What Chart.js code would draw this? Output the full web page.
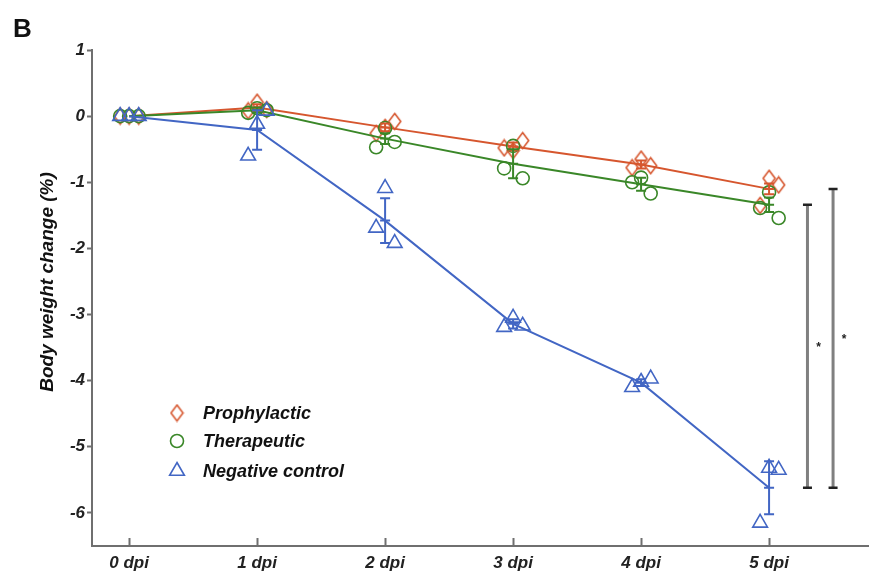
<!DOCTYPE html>
<html><head><meta charset="utf-8">
<script src="https://cdn.jsdelivr.net/npm/chart.js@4.4.1/dist/chart.umd.min.js"></script>
<style>html,body{margin:0;padding:0;background:#fff;} #wrap{width:879px;height:574px;position:relative;}</style>
</head><body><div id="wrap"><canvas id="c" width="879" height="574"></canvas></div>
<script>
// ---------- data ----------
const DAYS = [0, 1, 2, 3, 4, 5];
const TICK_LABELS = ['0 dpi', '1 dpi', '2 dpi', '3 dpi', '4 dpi', '5 dpi'];
const Y_TICKS = [1, 0, -1, -2, -3, -4, -5, -6];
const SERIES_NAMES = ['Prophylactic', 'Therapeutic', 'Negative control'];
const Y_TITLE = 'Body weight change (%)';
const PANEL = 'B';

const PRO_MEAN = [0, 0.13, -0.17, -0.46, -0.73, -1.10];
const THE_MEAN = [0, 0.09, -0.34, -0.72, -1.03, -1.34];
const NEG_MEAN = [0, -0.21, -1.58, -3.14, -4.03, -5.62];

const PRO_ERR = [0, 0.05, 0.06, 0.06, 0.06, 0.08];
const THE_ERR = [0, 0.04, 0.08, 0.22, 0.10, 0.11];
const NEG_ERR = [0, 0.30, 0.34, 0.07, 0.05, 0.40];

// individual animals per day (left, middle, right)
const PRO_PTS = [[0, 0, 0], [0.08, 0.21, 0.10], [-0.26, -0.17, -0.08], [-0.48, -0.52, -0.37], [-0.78, -0.65, -0.75], [-1.35, -0.94, -1.04]];
const THE_PTS = [[0, 0, 0], [0.05, 0.12, 0.09], [-0.47, -0.18, -0.39], [-0.79, -0.45, -0.94], [-1.00, -0.93, -1.17], [-1.39, -1.15, -1.54]];
const NEG_PTS = [[0, 0, 0], [-0.60, -0.12, 0.08], [-1.69, -1.09, -1.92], [-3.19, -3.05, -3.17], [-4.10, -4.02, -3.97], [-6.15, -5.32, -5.35]];
const JITTER = [-0.07, 0, 0.075];

// significance brackets at 5 dpi: [x, group index of top, group index of bottom, label]
const SIG = [[5.3, 1, 2, '*'], [5.5, 0, 2, '*']];

// ---------- styles ----------
const COLORS = ['rgb(214,86,46)', 'rgb(58,135,40)', 'rgb(66,102,196)'];
const FONT = "'Liberation Sans', Arial, Helvetica, sans-serif";
const AXIS_COLOR = '#6f6f6f';

function diamondImg(color) {
  const w = 12, h = 16, c = document.createElement('canvas');
  c.width = w + 3; c.height = h + 3;
  const g = c.getContext('2d');
  g.strokeStyle = color; g.lineWidth = 1.6;
  const cx = c.width / 2, cy = c.height / 2;
  g.beginPath();
  g.moveTo(cx, cy - h / 2); g.lineTo(cx + w / 2, cy); g.lineTo(cx, cy + h / 2); g.lineTo(cx - w / 2, cy); g.closePath();
  g.stroke();
  return c;
}
const DIAMOND = diamondImg(COLORS[0]);

const MEANS = [PRO_MEAN, THE_MEAN, NEG_MEAN];
const ERRS = [PRO_ERR, THE_ERR, NEG_ERR];
const PTS = [PRO_PTS, THE_PTS, NEG_PTS];
const POINT_STYLES = [DIAMOND, 'circle', 'triangle'];
const POINT_RADII = [7, 6.5, 8.5];

const datasets = [];
for (let g = 0; g < 3; g++) {
  datasets.push({
    type: 'line', label: SERIES_NAMES[g] + ' mean',
    data: DAYS.map((d, i) => ({x: d, y: MEANS[g][i]})),
    borderColor: COLORS[g], borderWidth: 2, pointRadius: 0, fill: false, tension: 0, order: 10 - g * 2
  });
  const pts = [];
  DAYS.forEach((d, i) => PTS[g][i].forEach((v, j) => pts.push({x: d + JITTER[j], y: v})));
  datasets.push({
    type: 'scatter', label: SERIES_NAMES[g],
    data: pts, showLine: false,
    pointStyle: POINT_STYLES[g], pointRadius: POINT_RADII[g], pointHoverRadius: POINT_RADII[g],
    borderColor: COLORS[g], backgroundColor: 'rgba(0,0,0,0)', borderWidth: 1.6, order: 9 - g * 2
  });
}

const overlay = {
  id: 'overlay',
  afterDatasetsDraw(chart) {
    const ctx = chart.ctx, xs = chart.scales.x, ys = chart.scales.y;
    ctx.save();
    // x tick marks (inside)
    ctx.strokeStyle = AXIS_COLOR; ctx.lineWidth = 2;
    DAYS.forEach(d => {
      const px = Math.round(xs.getPixelForValue(d)) + 0.5;
      ctx.beginPath(); ctx.moveTo(px, ys.bottom); ctx.lineTo(px, ys.bottom - 8); ctx.stroke();
    });
    // error bars
    for (let g = 0; g < 3; g++) {
      ctx.strokeStyle = COLORS[g]; ctx.lineWidth = 2;
      DAYS.forEach((d, i) => {
        const e = ERRS[g][i]; if (!e) return;
        const px = xs.getPixelForValue(d);
        const top = ys.getPixelForValue(MEANS[g][i] + e), bot = ys.getPixelForValue(MEANS[g][i] - e), mid = ys.getPixelForValue(MEANS[g][i]);
        ctx.beginPath();
        ctx.moveTo(px, top); ctx.lineTo(px, bot);
        ctx.moveTo(px - 5, top); ctx.lineTo(px + 5, top);
        ctx.moveTo(px - 5, bot); ctx.lineTo(px + 5, bot);
        ctx.moveTo(px - 5, mid); ctx.lineTo(px + 5, mid);
        ctx.stroke();
      });
    }
    // significance brackets
    SIG.forEach(([x, gTop, gBot, lab]) => {
      const px = xs.getPixelForValue(x);
      const last = DAYS.length - 1;
      const y1 = ys.getPixelForValue(MEANS[gTop][last]), y2 = ys.getPixelForValue(MEANS[gBot][last]);
      ctx.strokeStyle = '#808080'; ctx.lineWidth = 3;
      ctx.beginPath(); ctx.moveTo(px, y1); ctx.lineTo(px, y2); ctx.stroke();
      ctx.strokeStyle = '#222'; ctx.lineWidth = 2.5;
      ctx.beginPath(); ctx.moveTo(px - 4.5, y1); ctx.lineTo(px + 4.5, y1);
      ctx.moveTo(px - 4.5, y2); ctx.lineTo(px + 4.5, y2); ctx.stroke();
      ctx.fillStyle = '#222'; ctx.font = 'bold 12px ' + FONT; ctx.textAlign = 'center'; ctx.textBaseline = 'middle';
      ctx.fillText(lab, px + 11, (y1 + y2) / 2 + 1);
    });
    // legend
    const lx = 177, ly = [413, 441, 471];
    for (let g = 0; g < 3; g++) {
      const y = ly[g];
      ctx.strokeStyle = COLORS[g]; ctx.lineWidth = 1.6;
      if (g === 0) ctx.drawImage(DIAMOND, lx - DIAMOND.width / 2, y - DIAMOND.height / 2);
      else if (g === 1) { ctx.beginPath(); ctx.arc(lx, y, 6.5, 0, Math.PI * 2); ctx.stroke(); }
      else {
        const r = 8.5; ctx.beginPath();
        for (let k = 0; k < 3; k++) { const a = k * 2 * Math.PI / 3; const X = lx + Math.sin(a) * r, Y = y - Math.cos(a) * r; k ? ctx.lineTo(X, Y) : ctx.moveTo(X, Y); }
        ctx.closePath(); ctx.stroke();
      }
      ctx.fillStyle = '#111'; ctx.font = 'italic bold 18px ' + FONT; ctx.textAlign = 'left'; ctx.textBaseline = 'middle';
      ctx.fillText(SERIES_NAMES[g], 203, y + 1);
    }
    // y axis title
    ctx.save();
    ctx.translate(48, 282); ctx.rotate(-Math.PI / 2);
    ctx.fillStyle = '#111'; ctx.font = 'italic bold 19px ' + FONT; ctx.textAlign = 'center'; ctx.textBaseline = 'middle';
    ctx.fillText(Y_TITLE, 0, 0);
    ctx.restore();
    // panel label
    ctx.fillStyle = '#111'; ctx.font = 'bold 26px ' + FONT; ctx.textAlign = 'left'; ctx.textBaseline = 'alphabetic';
    ctx.fillText(PANEL, 13, 37);
    ctx.restore();
  }
};

new Chart(document.getElementById('c'), {
  data: {datasets},
  options: {
    responsive: false, animation: false, devicePixelRatio: 1,
    layout: {padding: {left: 0, right: 9, top: 50, bottom: 0}},
    plugins: {legend: {display: false}, tooltip: {enabled: false}},
    scales: {
      x: {
        type: 'linear', position: 'bottom', min: -0.29, max: 5.78,
        afterBuildTicks: s => { s.ticks = DAYS.map(v => ({value: v})); },
        afterFit: s => { s.height = 28; s.paddingLeft = 0; s.paddingRight = 0; },
        ticks: {callback: v => TICK_LABELS[DAYS.indexOf(v)] ?? '', color: '#222', padding: 7, maxRotation: 0, autoSkip: false,
          font: {family: FONT, size: 17, style: 'italic', weight: 'bold'}},
        grid: {display: false, drawTicks: false},
        border: {display: true, color: AXIS_COLOR, width: 2}
      },
      y: {
        type: 'linear', position: 'left', min: -6.5, max: 1,
        afterBuildTicks: s => { s.ticks = Y_TICKS.map(v => ({value: v})); },
        afterFit: s => { s.width = 92; s.paddingTop = 0; s.paddingBottom = 0; },
        ticks: {color: '#222', padding: 2, font: {family: FONT, size: 17, style: 'italic', weight: 'bold'}},
        grid: {display: true, drawOnChartArea: false, drawTicks: true, tickLength: 5, tickWidth: 2, tickColor: AXIS_COLOR},
        border: {display: true, color: AXIS_COLOR, width: 2},
        title: {display: false}
      }
    }
  },
  plugins: [overlay]
});
</script>
</body></html>
